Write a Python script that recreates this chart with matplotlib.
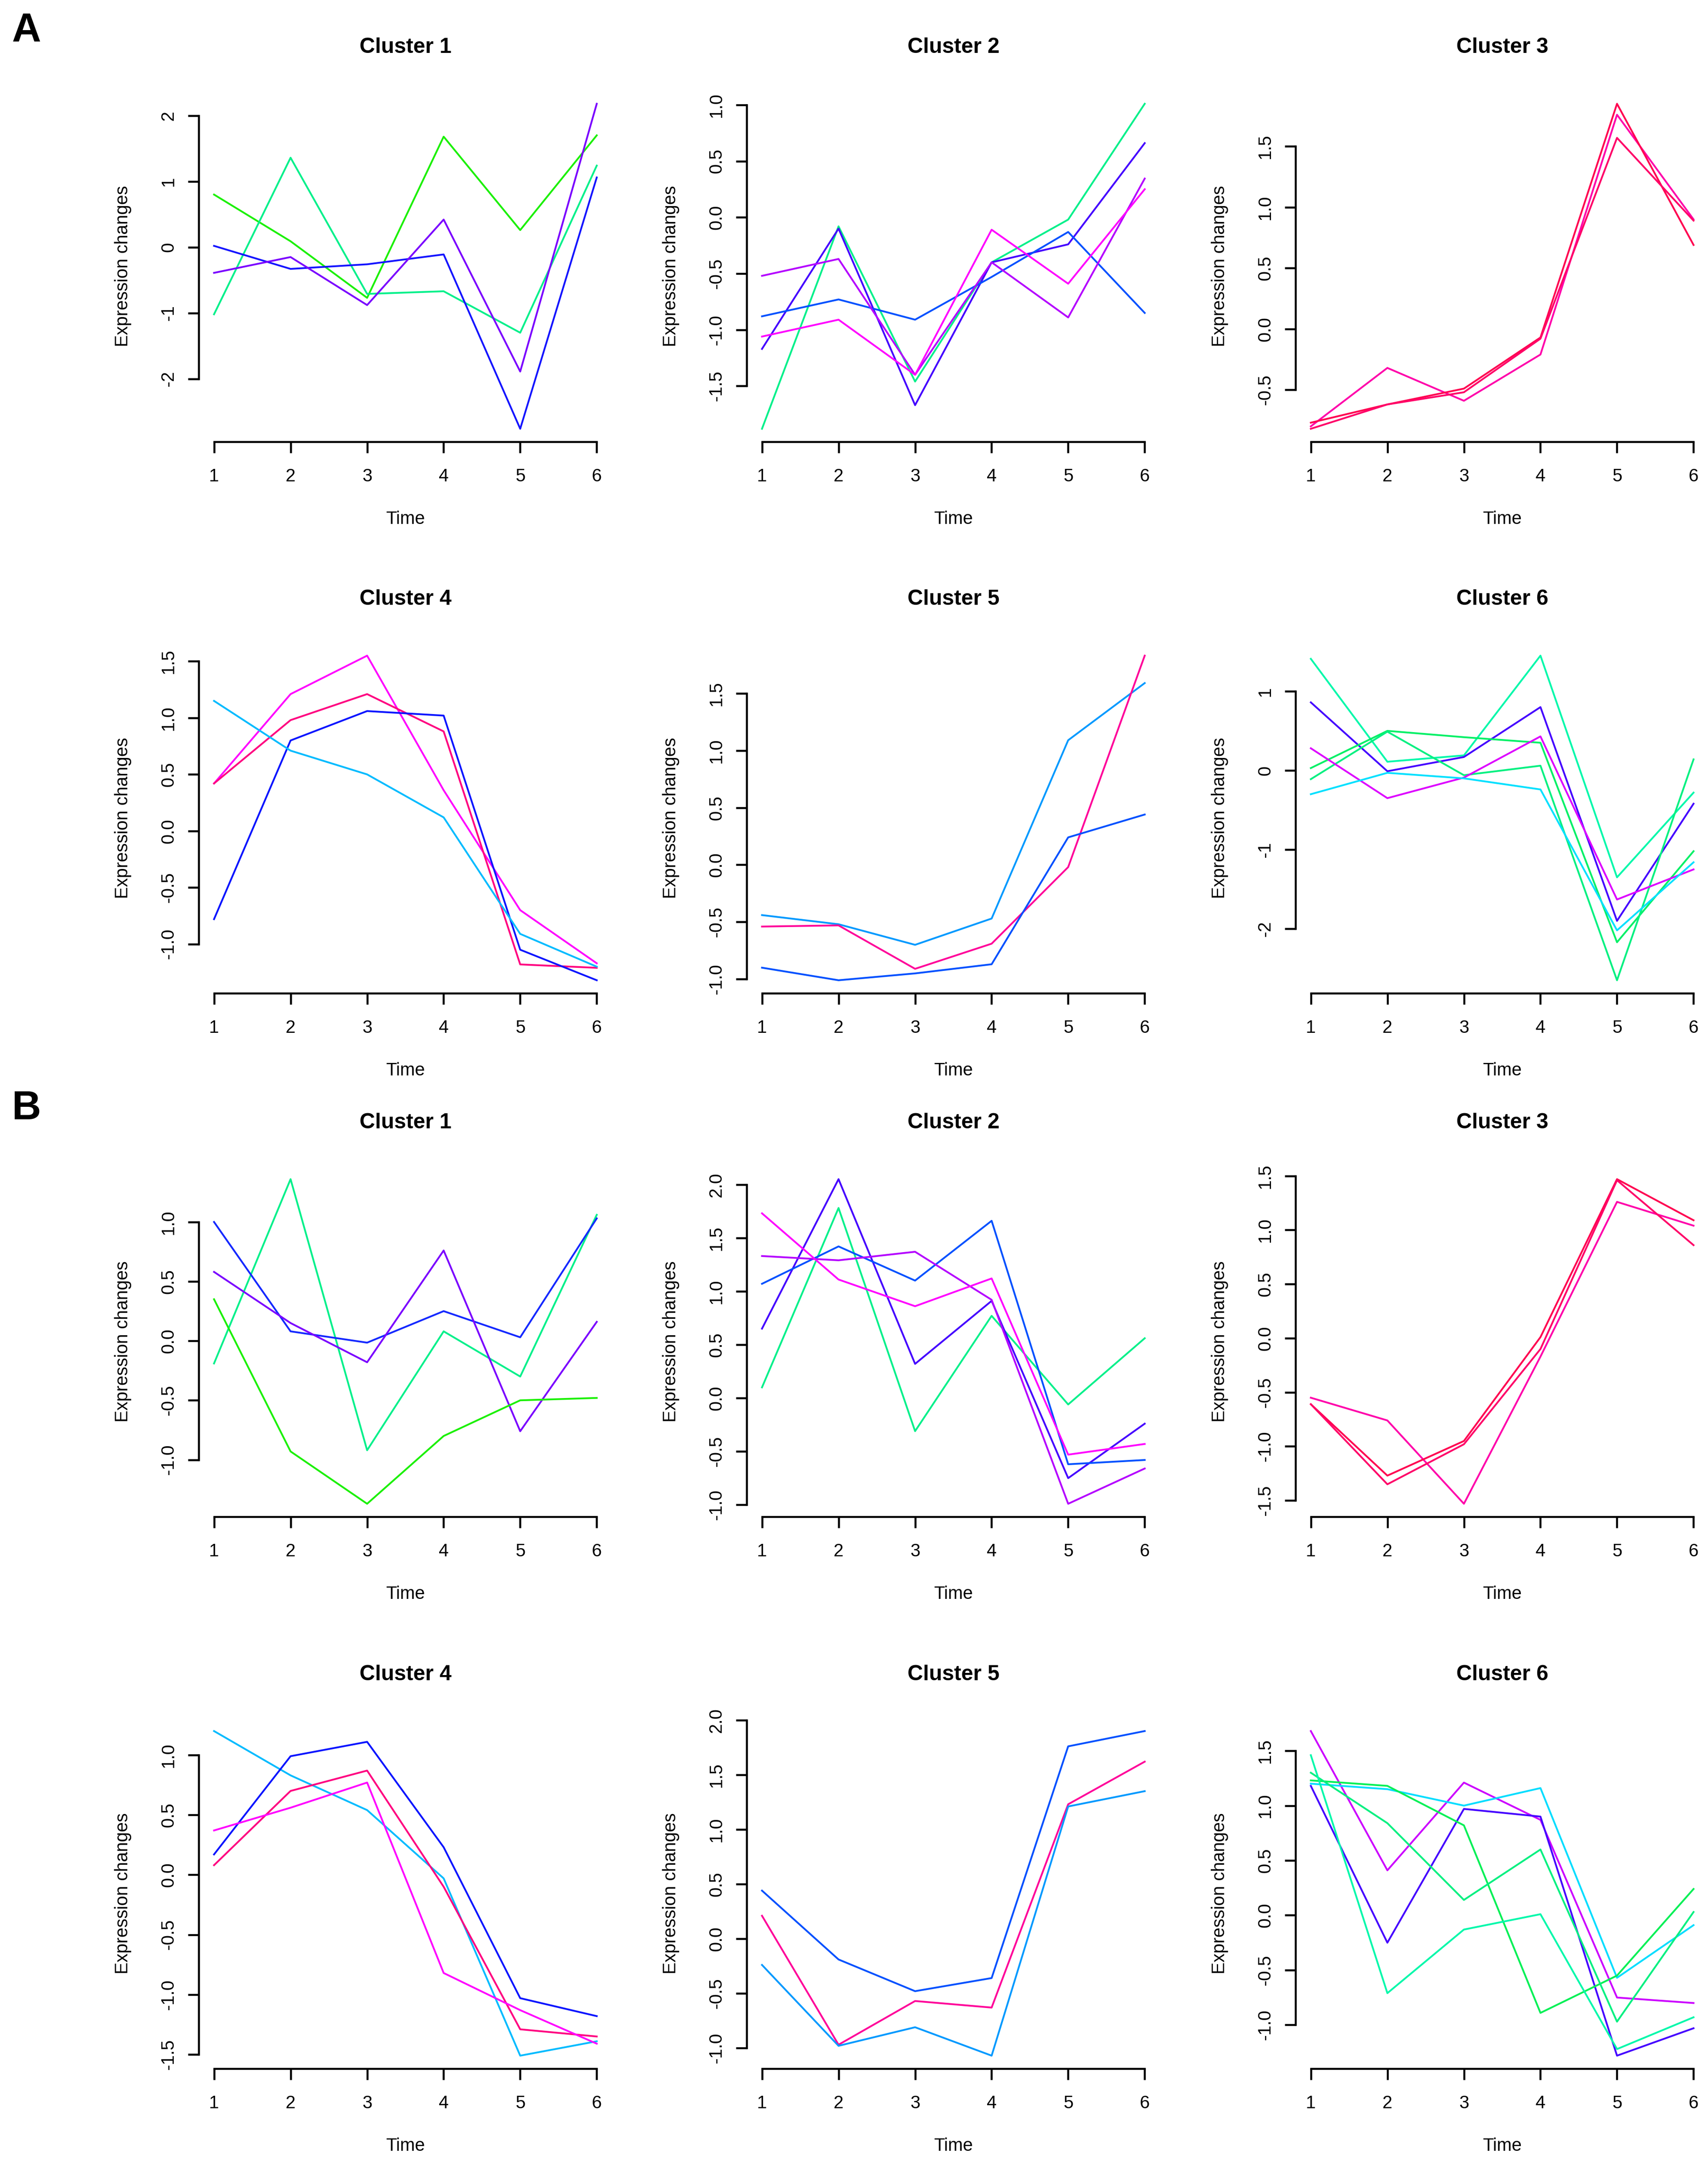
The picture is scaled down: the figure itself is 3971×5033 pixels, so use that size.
import matplotlib
matplotlib.use('Agg')
import matplotlib.pyplot as plt

plt.rcParams['font.family'] = ['Liberation Sans', 'DejaVu Sans']

time_points = [1, 2, 3, 4, 5, 6]

# ---- Panel A ----
a1_values = [[0.80, 0.09, -0.77, 1.68, 0.26, 1.70],
             [-1.02, 1.36, -0.71, -0.67, -1.30, 1.24],
             [0.02, -0.33, -0.26, -0.11, -2.76, 1.06],
             [-0.39, -0.15, -0.88, 0.42, -1.89, 2.18]]
a1_colors = ['#1AF000', '#00F08A', '#1414FF', '#7A00FF']
a1_ticks = [-2, -1, 0, 1, 2]

a2_values = [[-1.88, -0.08, -1.46, -0.40, -0.02, 1.01],
             [-1.17, -0.10, -1.67, -0.40, -0.24, 0.66],
             [-0.88, -0.73, -0.91, -0.53, -0.13, -0.85],
             [-0.52, -0.37, -1.40, -0.40, -0.89, 0.345],
             [-1.06, -0.91, -1.40, -0.11, -0.59, 0.25]]
a2_colors = ['#00F08A', '#4400FF', '#0050FF', '#B400FF', '#FF00FF']
a2_ticks = [-1.5, -1.0, -0.5, 0.0, 0.5, 1.0]

a3_values = [[-0.80, -0.32, -0.59, -0.21, 1.76, 0.90],
             [-0.77, -0.62, -0.49, -0.07, 1.85, 0.69],
             [-0.82, -0.62, -0.52, -0.08, 1.57, 0.89]]
a3_colors = ['#FF00AA', '#FF0050', '#FF0068']
a3_ticks = [-0.5, 0.0, 0.5, 1.0, 1.5]

a4_values = [[0.42, 1.21, 1.55, 0.36, -0.70, -1.17],
             [0.42, 0.98, 1.21, 0.88, -1.18, -1.21],
             [-0.78, 0.80, 1.06, 1.02, -1.05, -1.32],
             [1.15, 0.71, 0.50, 0.12, -0.91, -1.20]]
a4_colors = ['#FF00FF', '#FF0080', '#0A14FF', '#00BBFF']
a4_ticks = [-1.0, -0.5, 0.0, 0.5, 1.0, 1.5]

a5_values = [[-0.44, -0.52, -0.70, -0.47, 1.09, 1.59],
             [-0.54, -0.53, -0.91, -0.69, -0.02, 1.83],
             [-0.90, -1.01, -0.95, -0.87, 0.24, 0.44]]
a5_colors = ['#0099FF', '#FF0099', '#0050FF']
a5_ticks = [-1.0, -0.5, 0.0, 0.5, 1.0, 1.5]

a6_values = [[1.41, 0.11, 0.19, 1.45, -1.35, -0.28],
             [0.86, -0.01, 0.17, 0.80, -1.90, -0.42],
             [0.03, 0.50, 0.42, 0.35, -2.17, -1.02],
             [-0.11, 0.49, -0.06, 0.06, -2.65, 0.14],
             [0.28, -0.35, -0.09, 0.43, -1.63, -1.25],
             [-0.30, -0.03, -0.10, -0.24, -2.02, -1.16]]
a6_colors = ['#00F8AA', '#4400FF', '#00F066', '#00F080', '#DD00FF', '#00E0FF']
a6_ticks = [-2, -1, 0, 1]

# ---- Panel B ----
b1_values = [[-0.19, 1.36, -0.92, 0.08, -0.30, 1.06],
             [1.00, 0.08, -0.015, 0.25, 0.03, 1.03],
             [0.58, 0.15, -0.18, 0.76, -0.76, 0.16],
             [0.35, -0.93, -1.37, -0.80, -0.50, -0.48]]
b1_colors = ['#00F08A', '#1428FF', '#7A00FF', '#1AF000']
b1_ticks = [-1.0, -0.5, 0.0, 0.5, 1.0]

b2_values = [[0.10, 1.78, -0.31, 0.77, -0.06, 0.56],
             [0.65, 2.05, 0.32, 0.91, -0.75, -0.24],
             [1.07, 1.42, 1.10, 1.66, -0.62, -0.58],
             [1.33, 1.29, 1.37, 0.92, -0.99, -0.66],
             [1.73, 1.11, 0.86, 1.12, -0.53, -0.43]]
b2_colors = ['#00F08A', '#4400FF', '#0050FF', '#B400FF', '#FF00FF']
b2_ticks = [-1.0, -0.5, 0.0, 0.5, 1.0, 1.5, 2.0]

b3_values = [[-0.55, -0.76, -1.53, -0.17, 1.26, 1.04],
             [-0.61, -1.27, -0.95, 0.01, 1.47, 1.09],
             [-0.61, -1.35, -0.98, -0.10, 1.46, 0.86]]
b3_colors = ['#FF00AA', '#FF0050', '#FF0068']
b3_ticks = [-1.5, -1.0, -0.5, 0.0, 0.5, 1.0, 1.5]

b4_values = [[1.20, 0.83, 0.54, -0.03, -1.51, -1.39],
             [0.17, 0.99, 1.11, 0.23, -1.03, -1.18],
             [0.08, 0.70, 0.87, -0.10, -1.29, -1.35],
             [0.37, 0.56, 0.77, -0.82, -1.13, -1.41]]
b4_colors = ['#00BBFF', '#0A14FF', '#FF0080', '#FF00FF']
b4_ticks = [-1.5, -1.0, -0.5, 0.0, 0.5, 1.0]

b5_values = [[0.44, -0.19, -0.48, -0.36, 1.76, 1.90],
             [0.21, -0.97, -0.57, -0.63, 1.23, 1.62],
             [-0.24, -0.98, -0.81, -1.07, 1.21, 1.35]]
b5_colors = ['#0050FF', '#FF0099', '#0099FF']
b5_ticks = [-1.0, -0.5, 0.0, 0.5, 1.0, 1.5, 2.0]

b6_values = [[1.68, 0.41, 1.21, 0.87, -0.75, -0.80],
             [1.18, -0.25, 0.97, 0.90, -1.28, -1.03],
             [1.20, 1.15, 1.00, 1.16, -0.57, -0.09],
             [1.23, 1.18, 0.82, -0.89, -0.55, 0.24],
             [1.30, 0.84, 0.14, 0.60, -0.97, 0.03],
             [1.46, -0.71, -0.13, 0.01, -1.22, -0.93]]
b6_colors = ['#CC00FF', '#4400FF', '#00DDFF', '#00F055', '#00F080', '#00F8AA']
b6_ticks = [-1.0, -0.5, 0.0, 0.5, 1.0, 1.5]

panels = [
    [(a1_values, a1_colors, a1_ticks), (a2_values, a2_colors, a2_ticks), (a3_values, a3_colors, a3_ticks)],
    [(a4_values, a4_colors, a4_ticks), (a5_values, a5_colors, a5_ticks), (a6_values, a6_colors, a6_ticks)],
    [(b1_values, b1_colors, b1_ticks), (b2_values, b2_colors, b2_ticks), (b3_values, b3_colors, b3_ticks)],
    [(b4_values, b4_colors, b4_ticks), (b5_values, b5_colors, b5_ticks), (b6_values, b6_colors, b6_ticks)],
]


def tick_text(ticks):
    # R style: same number of decimals for every label
    if all(float(t).is_integer() for t in ticks):
        return ['%d' % t for t in ticks]
    return ['%.1f' % t for t in ticks]


def main():
    W, H = 3971, 5033
    fig = plt.figure(figsize=(W / 300, H / 300), dpi=300)

    col_left = [462, 1736, 3012]
    plot_w = 961
    rows = [(211, 1027), (1494, 2309), (2711, 3526), (3994, 4809)]

    for r, (top, bot) in enumerate(rows):
        for c, (values, colors, ticks) in enumerate(panels[r]):
            left = col_left[c]
            ax = fig.add_axes([left / W, 1 - bot / H, plot_w / W, (bot - top) / H])
            for vals, col in zip(values, colors):
                ax.plot(time_points, vals, color=col, lw=1.0)

            lo = min(min(v) for v in values)
            hi = max(max(v) for v in values)
            pad = 0.04 * (hi - lo)
            ax.set_ylim(lo - pad, hi + pad)
            ax.set_xlim(0.8, 6.2)

            ax.spines['top'].set_visible(False)
            ax.spines['right'].set_visible(False)
            ax.spines['left'].set_bounds(ticks[0], ticks[-1])
            ax.spines['bottom'].set_bounds(1, 6)
            for s in ('left', 'bottom'):
                ax.spines[s].set_linewidth(1.1)

            ax.set_xticks(time_points)
            ax.set_xticklabels([str(t) for t in time_points], fontsize=10)
            ax.set_yticks(ticks)
            ax.set_yticklabels(tick_text(ticks), fontsize=10, rotation=90, va='center')
            ax.tick_params(axis='x', length=6.2, width=1.1, pad=8.5)
            ax.tick_params(axis='y', length=6.0, width=1.1, pad=6.0)

            cx = (left + left + plot_w) / 2
            fig.text(cx / W, 1 - (top - 101) / H, 'Cluster %d' % (c + 1 + 3 * (r % 2)),
                     ha='center', va='center', fontsize=12, fontweight='bold')
            fig.text(cx / W, 1 - (bot + 180) / H, 'Time', ha='center', va='center', fontsize=10)
            fig.text((left - 176) / W, 1 - (top + bot) / 2 / H, 'Expression changes',
                     ha='center', va='center', rotation=90, fontsize=10)

    fig.text(62 / W, 1 - 73 / H, 'A', ha='center', va='center', fontsize=22.5, fontweight='bold')
    fig.text(62 / W, 1 - 2578 / H, 'B', ha='center', va='center', fontsize=22.5, fontweight='bold')

    fig.savefig('out.png', dpi=300)
    plt.close(fig)


if __name__ == '__main__':
    main()
